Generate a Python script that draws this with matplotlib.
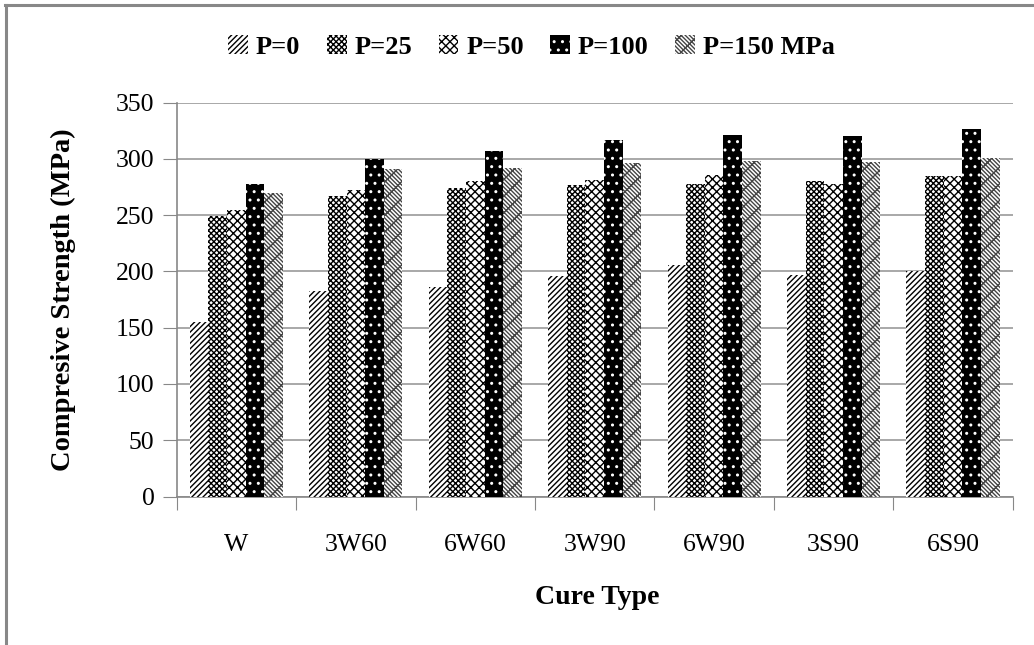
import matplotlib
matplotlib.use("Agg")
import matplotlib.pyplot as plt
from matplotlib.lines import Line2D
import numpy as np

cure_types = ["W", "3W60", "6W60", "3W90", "6W90", "3S90", "6S90"]
series_labels = ["P=0", "P=25", "P=50", "P=100", "P=150 MPa"]
p0 = [155, 183, 186, 196, 206, 197, 200]
p25 = [249, 267, 274, 277, 278, 280, 285]
p50 = [255, 272, 280, 281, 286, 278, 285]
p100 = [278, 300, 307, 317, 321, 320, 327]
p150 = [270, 291, 292, 296, 298, 297, 301]
series = [p0, p25, p50, p100, p150]

plt.rcParams["font.family"] = ["Liberation Serif", "DejaVu Serif"]
plt.rcParams["hatch.linewidth"] = 1.0

fig = plt.figure(figsize=(10.34, 6.45), dpi=100)
ax = fig.add_axes([0.1709, 0.2302, 0.8085, 0.6106])

styles = [
    dict(facecolor="white", edgecolor="black", hatch="//////"),
    dict(facecolor="white", edgecolor="black", hatch="xxxxxx"),
    dict(facecolor="white", edgecolor="black", hatch="xxxx"),
    dict(facecolor="black", edgecolor="white", hatch=".."),
    dict(facecolor="white", edgecolor="#444444", hatch="\\\\\\\\\\\\xx"),
]

x = np.arange(len(cure_types))
w = 0.156
for i, (vals, lab, st) in enumerate(zip(series, series_labels, styles)):
    ax.bar(x + (i - 2) * w, vals, w, label=lab, linewidth=0, zorder=3, **st)

ax.set_xlim(-0.5, len(cure_types) - 0.5)
ax.set_ylim(0, 350)
ax.set_yticks(range(0, 351, 50))
ax.set_xticks(np.arange(-0.5, len(cure_types), 1.0))
ax.set_xticklabels([])
ax.set_xticks(x, minor=True)
ax.set_xticklabels(cure_types, minor=True)
ax.tick_params(axis="x", which="minor", length=0, pad=27, labelsize=18.5)
ax.tick_params(axis="x", which="major", length=9, color="#888888")
ax.tick_params(axis="y", length=10, color="#888888", labelsize=18.5, pad=6)

ax.grid(axis="y", color="#999999", linewidth=1.2, zorder=0)
for s in ["top", "right"]:
    ax.spines[s].set_visible(False)
for s in ["left", "bottom"]:
    ax.spines[s].set_color("#888888")
    ax.spines[s].set_linewidth(1.2)

fig.text(0.061, 0.5353, "Compresive Strength (MPa)", rotation=90,
         ha="center", va="center", fontsize=20.5, fontweight="bold")
fig.text(0.578, 0.073, "Cure Type", ha="center", va="center",
         fontsize=20, fontweight="bold")

fig.legend(loc="center", bbox_to_anchor=(0.514, 0.927), ncol=5, frameon=False,
           prop=dict(size=19, weight="bold"), handlelength=0.75, handleheight=0.75,
           handletextpad=0.3, columnspacing=1.0)

fig.add_artist(Line2D([0.005, 1.0], [0.992, 0.992], color="#888888", linewidth=2.2))
fig.add_artist(Line2D([0.0058, 0.0058], [0.0, 0.992], color="#888888", linewidth=2.2))

fig.savefig("out.png", dpi=100)
